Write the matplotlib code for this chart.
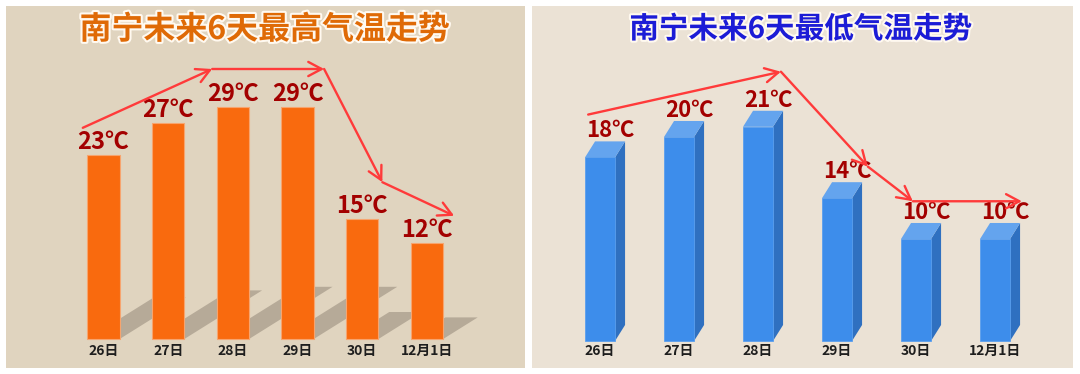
import matplotlib
matplotlib.use("Agg")
from matplotlib import pyplot as plt
from matplotlib.patches import Polygon, FancyArrowPatch
import matplotlib.patheffects as pe

plt.rcParams['font.family'] = ['Noto Sans CJK SC', 'DejaVu Sans']

days = ['26日', '27日', '28日', '29日', '30日', '12月1日']
high = [23, 27, 29, 29, 15, 12]
low = [18, 20, 21, 14, 10, 10]

# trend arrows (index, degrees)
high_trend_x = [-0.32, 1.68, 3.41, 4.31, 5.42]
high_trend_y = [26.4, 33.75, 33.75, 19.6, 15.4]
low_trend_x = [-0.15, 2.29, 3.39, 3.96, 5.34]
low_trend_y = [22.2, 26.4, 17.1, 13.7, 13.7]

W, H = 1080, 374
fig = plt.figure(figsize=(W / 100, H / 100), dpi=100)
fig.patch.set_facecolor('white')


def px_axes(x0, y0, x1, y1, bg):
    # pixel box (top-left origin) -> axes
    ax = fig.add_axes([x0 / W, (H - y1) / H, (x1 - x0) / W, (y1 - y0) / H])
    ax.set_facecolor(bg)
    ax.set_xticks([])
    ax.set_yticks([])
    for s in ax.spines.values():
        s.set_visible(False)
    return ax


def trend(ax, xs, ys):
    for k in range(len(xs) - 1):
        a = FancyArrowPatch((xs[k], ys[k]), (xs[k + 1], ys[k + 1]),
                            arrowstyle='->,head_length=0.6,head_width=0.32',
                            mutation_scale=16, color='#FF3A3A', lw=1.7,
                            shrinkA=0, shrinkB=0, zorder=5)
        ax.add_patch(a)


glow = [pe.withStroke(linewidth=3, foreground='#FFF9F0')]

# ---------- left: highs ----------
ax1 = px_axes(6, 6, 525, 368, '#E0D4BF')
ax1.set_xlim(-1.507, 6.515)
ax1.set_ylim(-3.625, 41.625)

bw = 0.5
for i, v in enumerate(high):
    sx, sy = 0.0445 * v, 0.225 * v
    ax1.add_patch(Polygon([(i - bw / 2, 0), (i + bw / 2, 0),
                           (i + bw / 2 + sx, sy), (i - bw / 2 + sx, sy)],
                          closed=True, facecolor='#B6AA98', edgecolor='none', zorder=1))
ax1.bar(range(len(days)), high, width=bw, color='#F96A0E', edgecolor='#F7A46E',
        linewidth=0.8, zorder=2)
for i, v in enumerate(high):
    ax1.text(i, v + 0.75, f'{v}℃', ha='center', va='baseline', fontsize=17,
             fontweight='bold', color='#A30000', zorder=4)
    ax1.text(i, -1.5, days[i], ha='center', va='center', fontsize=10,
             fontweight='bold', color='#1E1E1E')
trend(ax1, high_trend_x, high_trend_y)
fig.text(265 / W, 1 - 30 / H, '南宁未来6天最高气温走势', ha='center', va='center',
         fontsize=23, fontweight='bold', color='#DF6A06', path_effects=glow)

# ---------- right: lows ----------
ax2 = px_axes(532, 6, 1073, 368, '#EBE2D5')
ax2.set_xlim(-0.861, 5.987)
ax2.set_ylim(-2.647, 32.843)

fw = 0.38
dx, dy = 0.127, 1.57
for i, v in enumerate(low):
    l, r = i - fw / 2, i + fw / 2
    ax2.add_patch(Polygon([(r, 0), (r + dx, dy), (r + dx, v + dy), (r, v)],
                          closed=True, facecolor='#2F70C0', edgecolor='none', zorder=2))
    ax2.add_patch(Polygon([(l, v), (l + dx, v + dy), (r + dx, v + dy), (r, v)],
                          closed=True, facecolor='#64A4EE', edgecolor='none', zorder=2))
ax2.bar(range(len(days)), low, width=fw, color='#3D8DEB', edgecolor='#5A9FEE',
        linewidth=0.6, zorder=3)
for i, v in enumerate(low):
    ax2.text(i + dx, v + dy + 0.4, f'{v}℃', ha='center', va='baseline', fontsize=16,
             fontweight='bold', color='#A30000', zorder=4)
    ax2.text(i, -0.98, days[i], ha='center', va='center', fontsize=10,
             fontweight='bold', color='#1E1E1E')
trend(ax2, low_trend_x, low_trend_y)
fig.text(801 / W, 1 - 29 / H, '南宁未来6天最低气温走势', ha='center', va='center',
         fontsize=21.3, fontweight='bold', color='#1C1CD6', path_effects=glow)

fig.savefig('out.png', dpi=100, facecolor='white')
